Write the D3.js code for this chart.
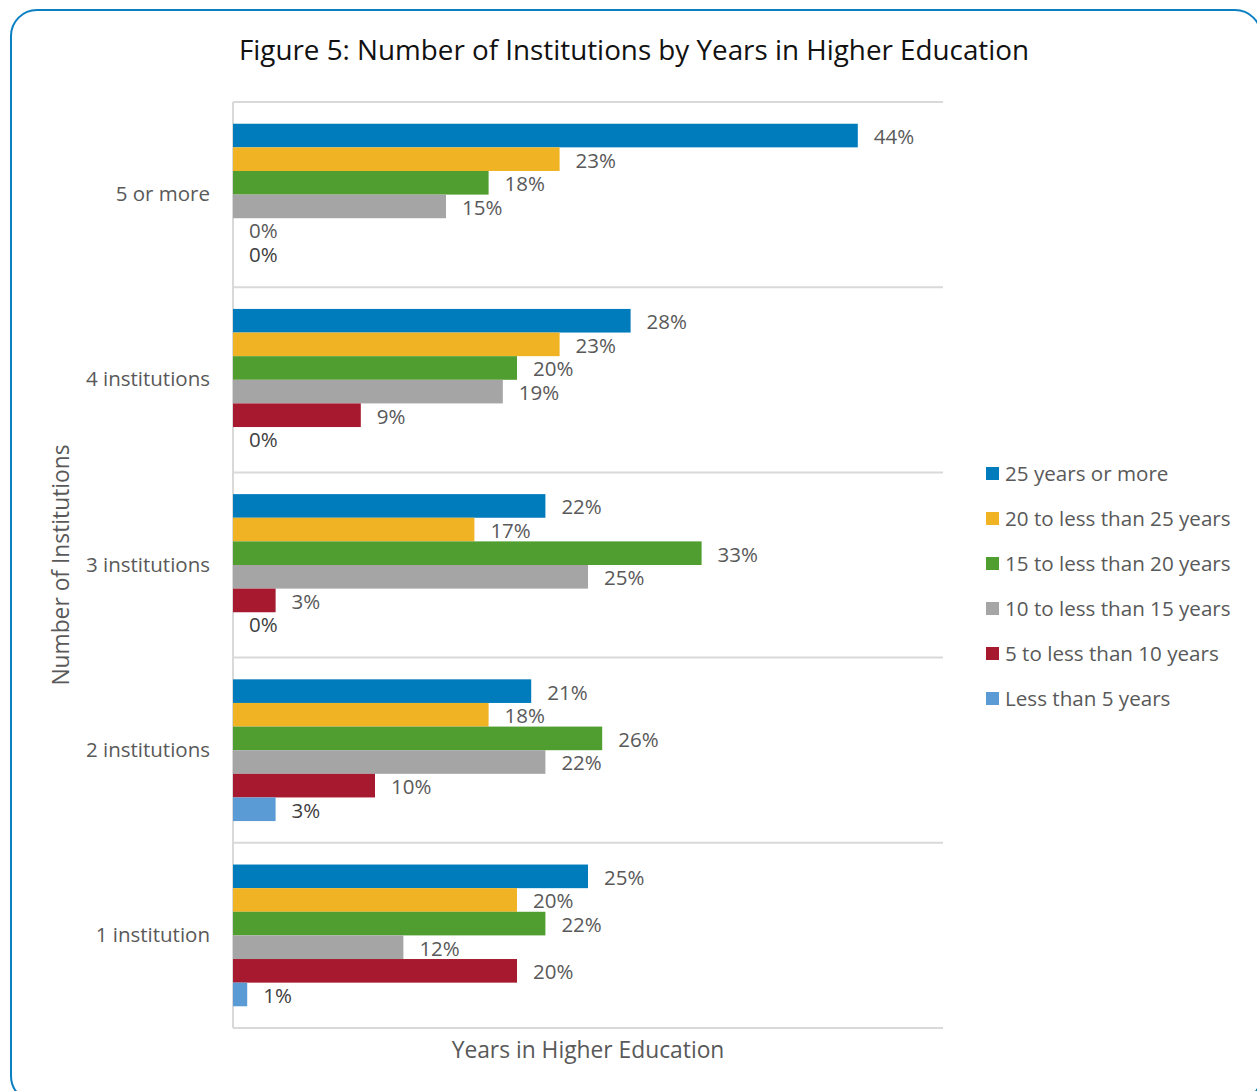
<!DOCTYPE html>
<html>
<head>
<meta charset="utf-8">
<script src="https://cdn.jsdelivr.net/npm/d3@7"></script>
<style>
  html, body { margin: 0; padding: 0; background: #fff; }
  svg { display: block; }
  text { font-family: "Open Sans", Lato, sans-serif; }
</style>
</head>
<body>
<div id="chart"></div>
<script>
// Institution groups, listed top to bottom
const categories = ["5 or more", "4 institutions", "3 institutions", "2 institutions", "1 institution"];

// Years-in-higher-education bands (legend order)
const series = [
  "25 years or more",
  "20 to less than 25 years",
  "15 to less than 20 years",
  "10 to less than 15 years",
  "5 to less than 10 years",
  "Less than 5 years"
];

// Share of respondents (%) for each band, one array per band, in category order
const yearsOver25   = [44, 28, 22, 21, 25];
const years20to25   = [23, 23, 17, 18, 20];
const years15to20   = [18, 20, 33, 26, 22];
const years10to15   = [15, 19, 25, 22, 12];
const years5to10    = [0,  9,  3,  10, 20];
const yearsUnder5   = [0,  0,  0,  3,  1];

const seriesValues = [yearsOver25, years20to25, years15to20, years10to15, years5to10, yearsUnder5];
const colors = ["#007bbb", "#f0b323", "#509e2f", "#a5a5a5", "#a6192e", "#5b9bd5"];

const W = 1257, H = 1091;
const svg = d3.select("#chart").append("svg").attr("width", W).attr("height", H);

// Rounded frame
svg.append("rect")
  .attr("x", 11).attr("y", 10)
  .attr("width", 1250).attr("height", 1092)
  .attr("rx", 26).attr("ry", 26)
  .attr("fill", "#fff").attr("stroke", "#0a7fc2").attr("stroke-width", 2);

// Title
svg.append("text")
  .attr("x", 634).attr("y", 60)
  .attr("text-anchor", "middle")
  .attr("font-size", 27.8)
  .attr("fill", "#111")
  .text("Figure 5: Number of Institutions by Years in Higher Education");

const plot = { left: 233, right: 943, top: 102, bottom: 1028 };

const x = d3.scaleLinear().domain([0, 50]).range([plot.left, plot.right]);
const y0 = d3.scaleBand().domain(categories).range([plot.top, plot.bottom]).padding(0);
const y1 = d3.scaleBand().domain(series).range([0, y0.bandwidth()]).paddingInner(0).paddingOuter(0.92);

// Horizontal separators between groups
const bounds = categories.map(c => y0(c)).concat([plot.bottom]);
svg.append("g").selectAll("line").data(bounds).join("line")
  .attr("x1", plot.left).attr("x2", plot.right)
  .attr("y1", d => d).attr("y2", d => d)
  .attr("stroke", "#d9d9d9").attr("stroke-width", 2);

// Category axis line
svg.append("line")
  .attr("x1", plot.left).attr("x2", plot.left)
  .attr("y1", plot.top).attr("y2", plot.bottom)
  .attr("stroke", "#d9d9d9").attr("stroke-width", 2);

// Category labels
const yAxis = d3.axisLeft(y0).tickSize(0).tickPadding(23);
const yAxisG = svg.append("g").attr("transform", `translate(${plot.left},0)`).call(yAxis);
yAxisG.select(".domain").remove();
yAxisG.selectAll("text")
  .attr("font-family", "'Open Sans', Lato, sans-serif")
  .attr("font-size", 20.5)
  .attr("fill", "#595959");

// Bars and value labels
const rows = [];
categories.forEach((c, ci) => {
  series.forEach((s, si) => {
    rows.push({ cat: c, ser: s, si: si, v: seriesValues[si][ci] });
  });
});

const groups = svg.append("g");
groups.selectAll("rect").data(rows).join("rect")
  .attr("x", x(0))
  .attr("y", d => y0(d.cat) + y1(d.ser))
  .attr("width", d => x(d.v) - x(0))
  .attr("height", y1.bandwidth())
  .attr("fill", d => colors[d.si]);

groups.selectAll("text.val").data(rows).join("text")
  .attr("class", "val")
  .attr("x", d => x(d.v) + 16)
  .attr("y", d => y0(d.cat) + y1(d.ser) + y1.bandwidth() / 2 + 1)
  .attr("dy", "0.36em")
  .attr("font-size", 20.5)
  .attr("fill", d => d.si === 5 ? "#404040" : "#595959")
  .text(d => d.v + "%");

// Axis titles
svg.append("text")
  .attr("transform", `translate(69,${(plot.top + plot.bottom) / 2}) rotate(-90)`)
  .attr("text-anchor", "middle")
  .attr("font-size", 22.8)
  .attr("fill", "#595959")
  .text("Number of Institutions");

svg.append("text")
  .attr("x", (plot.left + plot.right) / 2).attr("y", 1058)
  .attr("text-anchor", "middle")
  .attr("font-size", 22.8)
  .attr("fill", "#595959")
  .text("Years in Higher Education");

// Legend
const legend = svg.append("g").attr("transform", "translate(986,474)");
const li = legend.selectAll("g").data(series).join("g")
  .attr("transform", (d, i) => `translate(0,${i * 45})`);
li.append("rect")
  .attr("x", 0).attr("y", -7).attr("width", 13).attr("height", 13)
  .attr("fill", (d, i) => colors[i]);
li.append("text")
  .attr("x", 19).attr("y", 0).attr("dy", "0.36em")
  .attr("font-size", 20.6)
  .attr("fill", "#595959")
  .text(d => d);
</script>
</body>
</html>
